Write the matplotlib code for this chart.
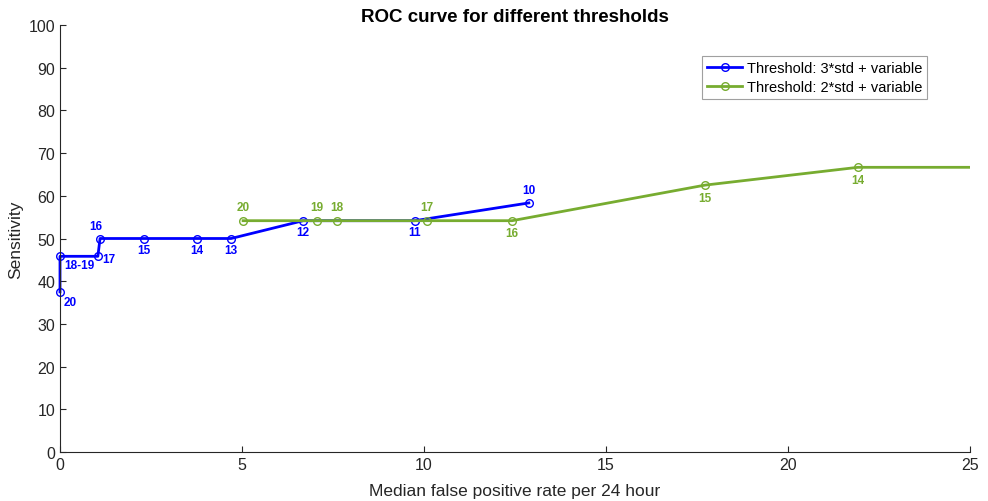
import matplotlib.pyplot as plt
from matplotlib.transforms import Bbox, TransformedBbox

plt.rcParams['font.family'] = ['Liberation Sans', 'DejaVu Sans']

# ========== DATA ==========
x3 = [0.0, 0.0, 1.04, 1.10, 2.31, 3.76, 4.70, 6.68, 9.75, 12.88]
y3 = [37.5, 45.83, 45.83, 50.0, 50.0, 50.0, 50.0, 54.17, 54.17, 58.33]
lab3 = ['20', '18-19', '17', '16', '15', '14', '13', '12', '11', '10']

x2 = [5.03, 7.06, 7.61, 10.08, 12.42, 17.72, 21.92, 28.0]
y2 = [54.17, 54.17, 54.17, 54.17, 54.17, 62.5, 66.67, 66.67]
lab2 = ['20', '19', '18', '17', '16', '15', '14', '13']

# label offsets in points
off3 = [(7, -7), (14, -6), (8, -2), (-3, 9), (0, -8), (0, -8), (0, -8), (0, -8), (0, -8), (0, 9)]
off2 = [(0, 10), (0, 10), (0, 10), (0, 10), (0, -9), (0, -9), (0, -9), (0, -9)]

BLUE = '#0000ff'
GREEN = '#77ac30'

# ========== PLOT ==========
fig = plt.figure(figsize=(9.88, 5.02), dpi=100)
ax = fig.add_axes([60 / 988, 49 / 502, 910 / 988, 427 / 502])

# clip slightly wider on the left so markers on x=0 are whole
clip = TransformedBbox(Bbox([[-0.02, -0.02], [1.0, 1.02]]), ax.transAxes)

l3, = ax.plot(x3, y3, '-o', color=BLUE, lw=2, ms=5.5, mfc='none', mew=1,
              label='Threshold: 3*std + variable')
l2, = ax.plot(x2, y2, '-o', color=GREEN, lw=2, ms=5.5, mfc='none', mew=1,
              label='Threshold: 2*std + variable')
for ln in (l3, l2):
    ln.set_clip_box(clip)

for xs, ys, labs, offs, c in [(x3, y3, lab3, off3, BLUE), (x2, y2, lab2, off2, GREEN)]:
    for xv, yv, t, o in zip(xs, ys, labs, offs):
        ax.annotate(t, (xv, yv), xytext=o, textcoords='offset points',
                    ha='center', va='center', fontsize=8.5, fontweight='bold',
                    color=c, annotation_clip=True)

ax.set_xlim(0, 25)
ax.set_ylim(0, 100)
ax.set_xticks(range(0, 26, 5))
ax.set_yticks(range(0, 101, 10))
ax.tick_params(direction='in', labelsize=11.5, colors='#262626', length=4)
for s in ['top', 'right']:
    ax.spines[s].set_visible(False)
for s in ['left', 'bottom']:
    ax.spines[s].set_color('#262626')

ax.set_xlabel('Median false positive rate per 24 hour', fontsize=12.5, color='#262626', labelpad=8)
ax.set_ylabel('Sensitivity', fontsize=12.5, color='#262626')
ax.set_title('ROC curve for different thresholds', fontsize=13.5, fontweight='bold', pad=1)

leg = ax.legend(loc='upper right', bbox_to_anchor=(0.953, 0.927), fontsize=10.5,
                fancybox=False, framealpha=1, handlelength=2.4, borderpad=0.35,
                labelspacing=0.35, handletextpad=0.3, borderaxespad=0)
leg.get_frame().set_edgecolor('#a0a0a0')
leg.get_frame().set_linewidth(0.8)

fig.savefig('out.png', dpi=100)
